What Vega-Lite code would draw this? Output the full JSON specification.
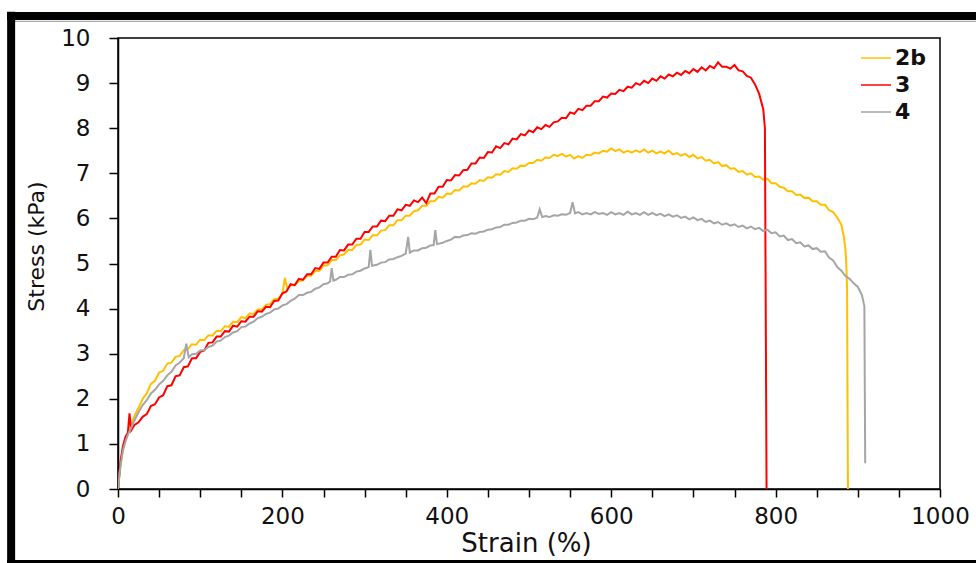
{
  "$schema": "https://vega.github.io/schema/vega-lite/v6.json",
  "autosize": {"type": "none"},
  "padding": {"left": 118, "top": 38, "right": 36, "bottom": 74},
  "width": 822,
  "height": 451,
  "background": "white",
  "config": {"view": {"stroke": "#000", "strokeWidth": 1.5}, "font": "DejaVu Sans"},
  "layer": [
    {
      "data": {"values": [
        {"sample":"2b","strain":0,"stress":0},{"sample":"2b","strain":3,"stress":0.55},{"sample":"2b","strain":6,"stress":0.9},{"sample":"2b","strain":9,"stress":1.1},{"sample":"2b","strain":12,"stress":1.25},{"sample":"2b","strain":15,"stress":1.38},{"sample":"2b","strain":20,"stress":1.62},{"sample":"2b","strain":25,"stress":1.8},{"sample":"2b","strain":30,"stress":2.0},{"sample":"2b","strain":35,"stress":2.12},{"sample":"2b","strain":40,"stress":2.33},{"sample":"2b","strain":45,"stress":2.4},{"sample":"2b","strain":50,"stress":2.58},{"sample":"2b","strain":55,"stress":2.62},{"sample":"2b","strain":60,"stress":2.78},{"sample":"2b","strain":65,"stress":2.8},{"sample":"2b","strain":70,"stress":2.93},{"sample":"2b","strain":75,"stress":2.95},{"sample":"2b","strain":80,"stress":3.08},{"sample":"2b","strain":85,"stress":3.1},{"sample":"2b","strain":90,"stress":3.21},{"sample":"2b","strain":95,"stress":3.2},{"sample":"2b","strain":100,"stress":3.31},{"sample":"2b","strain":105,"stress":3.3},{"sample":"2b","strain":110,"stress":3.41},{"sample":"2b","strain":115,"stress":3.4},{"sample":"2b","strain":120,"stress":3.51},{"sample":"2b","strain":125,"stress":3.5},{"sample":"2b","strain":130,"stress":3.61},{"sample":"2b","strain":135,"stress":3.6},{"sample":"2b","strain":140,"stress":3.71},{"sample":"2b","strain":145,"stress":3.7},{"sample":"2b","strain":150,"stress":3.81},{"sample":"2b","strain":155,"stress":3.79},{"sample":"2b","strain":160,"stress":3.89},{"sample":"2b","strain":165,"stress":3.88},{"sample":"2b","strain":170,"stress":3.98},{"sample":"2b","strain":175,"stress":3.98},{"sample":"2b","strain":180,"stress":4.08},{"sample":"2b","strain":185,"stress":4.1},{"sample":"2b","strain":190,"stress":4.21},{"sample":"2b","strain":195,"stress":4.22},{"sample":"2b","strain":200,"stress":4.33},{"sample":"2b","strain":203,"stress":4.68},{"sample":"2b","strain":206,"stress":4.44},{"sample":"2b","strain":210,"stress":4.53},{"sample":"2b","strain":215,"stress":4.52},{"sample":"2b","strain":220,"stress":4.61},{"sample":"2b","strain":225,"stress":4.62},{"sample":"2b","strain":230,"stress":4.73},{"sample":"2b","strain":235,"stress":4.73},{"sample":"2b","strain":240,"stress":4.83},{"sample":"2b","strain":245,"stress":4.84},{"sample":"2b","strain":250,"stress":4.95},{"sample":"2b","strain":255,"stress":4.96},{"sample":"2b","strain":260,"stress":5.08},{"sample":"2b","strain":265,"stress":5.08},{"sample":"2b","strain":270,"stress":5.18},{"sample":"2b","strain":275,"stress":5.2},{"sample":"2b","strain":280,"stress":5.3},{"sample":"2b","strain":285,"stress":5.3},{"sample":"2b","strain":290,"stress":5.41},{"sample":"2b","strain":295,"stress":5.42},{"sample":"2b","strain":300,"stress":5.53},{"sample":"2b","strain":305,"stress":5.52},{"sample":"2b","strain":310,"stress":5.63},{"sample":"2b","strain":315,"stress":5.62},{"sample":"2b","strain":320,"stress":5.73},{"sample":"2b","strain":325,"stress":5.74},{"sample":"2b","strain":330,"stress":5.85},{"sample":"2b","strain":335,"stress":5.85},{"sample":"2b","strain":340,"stress":5.96},{"sample":"2b","strain":345,"stress":5.96},{"sample":"2b","strain":350,"stress":6.06},{"sample":"2b","strain":355,"stress":6.06},{"sample":"2b","strain":360,"stress":6.16},{"sample":"2b","strain":365,"stress":6.18},{"sample":"2b","strain":370,"stress":6.28},{"sample":"2b","strain":375,"stress":6.28},{"sample":"2b","strain":380,"stress":6.38},{"sample":"2b","strain":385,"stress":6.38},{"sample":"2b","strain":390,"stress":6.48},{"sample":"2b","strain":395,"stress":6.46},{"sample":"2b","strain":400,"stress":6.55},{"sample":"2b","strain":405,"stress":6.54},{"sample":"2b","strain":410,"stress":6.63},{"sample":"2b","strain":415,"stress":6.62},{"sample":"2b","strain":420,"stress":6.71},{"sample":"2b","strain":425,"stress":6.7},{"sample":"2b","strain":430,"stress":6.78},{"sample":"2b","strain":435,"stress":6.77},{"sample":"2b","strain":440,"stress":6.85},{"sample":"2b","strain":445,"stress":6.83},{"sample":"2b","strain":450,"stress":6.91},{"sample":"2b","strain":455,"stress":6.9},{"sample":"2b","strain":460,"stress":6.98},{"sample":"2b","strain":465,"stress":6.97},{"sample":"2b","strain":470,"stress":7.05},{"sample":"2b","strain":475,"stress":7.03},{"sample":"2b","strain":480,"stress":7.11},{"sample":"2b","strain":485,"stress":7.1},{"sample":"2b","strain":490,"stress":7.17},{"sample":"2b","strain":495,"stress":7.16},{"sample":"2b","strain":500,"stress":7.23},{"sample":"2b","strain":505,"stress":7.23},{"sample":"2b","strain":510,"stress":7.3},{"sample":"2b","strain":515,"stress":7.28},{"sample":"2b","strain":520,"stress":7.35},{"sample":"2b","strain":525,"stress":7.34},{"sample":"2b","strain":530,"stress":7.41},{"sample":"2b","strain":535,"stress":7.38},{"sample":"2b","strain":540,"stress":7.43},{"sample":"2b","strain":545,"stress":7.37},{"sample":"2b","strain":550,"stress":7.41},{"sample":"2b","strain":555,"stress":7.33},{"sample":"2b","strain":560,"stress":7.38},{"sample":"2b","strain":565,"stress":7.34},{"sample":"2b","strain":570,"stress":7.41},{"sample":"2b","strain":575,"stress":7.4},{"sample":"2b","strain":580,"stress":7.46},{"sample":"2b","strain":585,"stress":7.44},{"sample":"2b","strain":590,"stress":7.5},{"sample":"2b","strain":595,"stress":7.48},{"sample":"2b","strain":600,"stress":7.55},{"sample":"2b","strain":605,"stress":7.49},{"sample":"2b","strain":610,"stress":7.53},{"sample":"2b","strain":615,"stress":7.46},{"sample":"2b","strain":620,"stress":7.5},{"sample":"2b","strain":625,"stress":7.46},{"sample":"2b","strain":630,"stress":7.51},{"sample":"2b","strain":635,"stress":7.47},{"sample":"2b","strain":640,"stress":7.53},{"sample":"2b","strain":645,"stress":7.46},{"sample":"2b","strain":650,"stress":7.5},{"sample":"2b","strain":655,"stress":7.44},{"sample":"2b","strain":660,"stress":7.48},{"sample":"2b","strain":665,"stress":7.44},{"sample":"2b","strain":670,"stress":7.5},{"sample":"2b","strain":675,"stress":7.42},{"sample":"2b","strain":680,"stress":7.45},{"sample":"2b","strain":685,"stress":7.39},{"sample":"2b","strain":690,"stress":7.43},{"sample":"2b","strain":695,"stress":7.36},{"sample":"2b","strain":700,"stress":7.41},{"sample":"2b","strain":705,"stress":7.33},{"sample":"2b","strain":710,"stress":7.36},{"sample":"2b","strain":715,"stress":7.28},{"sample":"2b","strain":720,"stress":7.3},{"sample":"2b","strain":725,"stress":7.22},{"sample":"2b","strain":730,"stress":7.25},{"sample":"2b","strain":735,"stress":7.16},{"sample":"2b","strain":740,"stress":7.18},{"sample":"2b","strain":745,"stress":7.1},{"sample":"2b","strain":750,"stress":7.11},{"sample":"2b","strain":755,"stress":7.03},{"sample":"2b","strain":760,"stress":7.05},{"sample":"2b","strain":765,"stress":6.97},{"sample":"2b","strain":770,"stress":7.0},{"sample":"2b","strain":775,"stress":6.92},{"sample":"2b","strain":780,"stress":6.93},{"sample":"2b","strain":785,"stress":6.86},{"sample":"2b","strain":790,"stress":6.88},{"sample":"2b","strain":795,"stress":6.78},{"sample":"2b","strain":800,"stress":6.78},{"sample":"2b","strain":805,"stress":6.7},{"sample":"2b","strain":810,"stress":6.68},{"sample":"2b","strain":815,"stress":6.6},{"sample":"2b","strain":820,"stress":6.6},{"sample":"2b","strain":825,"stress":6.52},{"sample":"2b","strain":830,"stress":6.53},{"sample":"2b","strain":835,"stress":6.45},{"sample":"2b","strain":840,"stress":6.46},{"sample":"2b","strain":845,"stress":6.38},{"sample":"2b","strain":850,"stress":6.38},{"sample":"2b","strain":855,"stress":6.3},{"sample":"2b","strain":860,"stress":6.3},{"sample":"2b","strain":865,"stress":6.18},{"sample":"2b","strain":870,"stress":6.14},{"sample":"2b","strain":875,"stress":6.02},{"sample":"2b","strain":880,"stress":5.86},{"sample":"2b","strain":883,"stress":5.6},{"sample":"2b","strain":885,"stress":5.3},{"sample":"2b","strain":886,"stress":5.0},{"sample":"2b","strain":887,"stress":4.4},{"sample":"2b","strain":887.5,"stress":2.0},{"sample":"2b","strain":888,"stress":0},
        {"sample":"3","strain":0,"stress":0},{"sample":"3","strain":3,"stress":0.6},{"sample":"3","strain":6,"stress":0.95},{"sample":"3","strain":9,"stress":1.15},{"sample":"3","strain":12,"stress":1.25},{"sample":"3","strain":14,"stress":1.68},{"sample":"3","strain":16,"stress":1.3},{"sample":"3","strain":20,"stress":1.42},{"sample":"3","strain":25,"stress":1.48},{"sample":"3","strain":30,"stress":1.6},{"sample":"3","strain":35,"stress":1.66},{"sample":"3","strain":40,"stress":1.84},{"sample":"3","strain":45,"stress":1.88},{"sample":"3","strain":50,"stress":2.03},{"sample":"3","strain":55,"stress":2.08},{"sample":"3","strain":60,"stress":2.28},{"sample":"3","strain":65,"stress":2.3},{"sample":"3","strain":70,"stress":2.5},{"sample":"3","strain":75,"stress":2.52},{"sample":"3","strain":80,"stress":2.7},{"sample":"3","strain":85,"stress":2.72},{"sample":"3","strain":90,"stress":2.9},{"sample":"3","strain":95,"stress":2.9},{"sample":"3","strain":100,"stress":3.04},{"sample":"3","strain":105,"stress":3.07},{"sample":"3","strain":110,"stress":3.24},{"sample":"3","strain":115,"stress":3.25},{"sample":"3","strain":120,"stress":3.38},{"sample":"3","strain":125,"stress":3.38},{"sample":"3","strain":130,"stress":3.5},{"sample":"3","strain":135,"stress":3.49},{"sample":"3","strain":140,"stress":3.62},{"sample":"3","strain":145,"stress":3.6},{"sample":"3","strain":150,"stress":3.72},{"sample":"3","strain":155,"stress":3.71},{"sample":"3","strain":160,"stress":3.82},{"sample":"3","strain":165,"stress":3.82},{"sample":"3","strain":170,"stress":3.94},{"sample":"3","strain":175,"stress":3.93},{"sample":"3","strain":180,"stress":4.04},{"sample":"3","strain":185,"stress":4.03},{"sample":"3","strain":190,"stress":4.17},{"sample":"3","strain":195,"stress":4.18},{"sample":"3","strain":200,"stress":4.34},{"sample":"3","strain":205,"stress":4.38},{"sample":"3","strain":210,"stress":4.54},{"sample":"3","strain":215,"stress":4.52},{"sample":"3","strain":220,"stress":4.66},{"sample":"3","strain":225,"stress":4.64},{"sample":"3","strain":230,"stress":4.76},{"sample":"3","strain":235,"stress":4.76},{"sample":"3","strain":240,"stress":4.9},{"sample":"3","strain":245,"stress":4.88},{"sample":"3","strain":250,"stress":5.02},{"sample":"3","strain":255,"stress":5.02},{"sample":"3","strain":260,"stress":5.15},{"sample":"3","strain":265,"stress":5.15},{"sample":"3","strain":270,"stress":5.3},{"sample":"3","strain":275,"stress":5.29},{"sample":"3","strain":280,"stress":5.42},{"sample":"3","strain":285,"stress":5.42},{"sample":"3","strain":290,"stress":5.55},{"sample":"3","strain":295,"stress":5.55},{"sample":"3","strain":300,"stress":5.7},{"sample":"3","strain":305,"stress":5.7},{"sample":"3","strain":310,"stress":5.82},{"sample":"3","strain":315,"stress":5.82},{"sample":"3","strain":320,"stress":5.95},{"sample":"3","strain":325,"stress":5.94},{"sample":"3","strain":330,"stress":6.06},{"sample":"3","strain":335,"stress":6.06},{"sample":"3","strain":340,"stress":6.2},{"sample":"3","strain":345,"stress":6.18},{"sample":"3","strain":350,"stress":6.3},{"sample":"3","strain":355,"stress":6.28},{"sample":"3","strain":360,"stress":6.4},{"sample":"3","strain":365,"stress":6.36},{"sample":"3","strain":370,"stress":6.46},{"sample":"3","strain":375,"stress":6.34},{"sample":"3","strain":380,"stress":6.55},{"sample":"3","strain":385,"stress":6.55},{"sample":"3","strain":390,"stress":6.7},{"sample":"3","strain":395,"stress":6.7},{"sample":"3","strain":400,"stress":6.85},{"sample":"3","strain":405,"stress":6.84},{"sample":"3","strain":410,"stress":6.96},{"sample":"3","strain":415,"stress":6.95},{"sample":"3","strain":420,"stress":7.07},{"sample":"3","strain":425,"stress":7.08},{"sample":"3","strain":430,"stress":7.22},{"sample":"3","strain":435,"stress":7.22},{"sample":"3","strain":440,"stress":7.35},{"sample":"3","strain":445,"stress":7.34},{"sample":"3","strain":450,"stress":7.47},{"sample":"3","strain":455,"stress":7.46},{"sample":"3","strain":460,"stress":7.6},{"sample":"3","strain":465,"stress":7.56},{"sample":"3","strain":470,"stress":7.67},{"sample":"3","strain":475,"stress":7.64},{"sample":"3","strain":480,"stress":7.77},{"sample":"3","strain":485,"stress":7.75},{"sample":"3","strain":490,"stress":7.87},{"sample":"3","strain":495,"stress":7.84},{"sample":"3","strain":500,"stress":7.95},{"sample":"3","strain":505,"stress":7.91},{"sample":"3","strain":510,"stress":8.02},{"sample":"3","strain":515,"stress":7.98},{"sample":"3","strain":520,"stress":8.07},{"sample":"3","strain":525,"stress":8.03},{"sample":"3","strain":530,"stress":8.13},{"sample":"3","strain":535,"stress":8.15},{"sample":"3","strain":540,"stress":8.23},{"sample":"3","strain":545,"stress":8.22},{"sample":"3","strain":550,"stress":8.35},{"sample":"3","strain":555,"stress":8.32},{"sample":"3","strain":560,"stress":8.43},{"sample":"3","strain":565,"stress":8.4},{"sample":"3","strain":570,"stress":8.5},{"sample":"3","strain":575,"stress":8.5},{"sample":"3","strain":580,"stress":8.6},{"sample":"3","strain":585,"stress":8.6},{"sample":"3","strain":590,"stress":8.7},{"sample":"3","strain":595,"stress":8.68},{"sample":"3","strain":600,"stress":8.77},{"sample":"3","strain":605,"stress":8.76},{"sample":"3","strain":610,"stress":8.85},{"sample":"3","strain":615,"stress":8.82},{"sample":"3","strain":620,"stress":8.92},{"sample":"3","strain":625,"stress":8.9},{"sample":"3","strain":630,"stress":9.0},{"sample":"3","strain":635,"stress":8.96},{"sample":"3","strain":640,"stress":9.05},{"sample":"3","strain":645,"stress":9.0},{"sample":"3","strain":650,"stress":9.1},{"sample":"3","strain":655,"stress":9.05},{"sample":"3","strain":660,"stress":9.15},{"sample":"3","strain":665,"stress":9.1},{"sample":"3","strain":670,"stress":9.19},{"sample":"3","strain":675,"stress":9.15},{"sample":"3","strain":680,"stress":9.23},{"sample":"3","strain":685,"stress":9.18},{"sample":"3","strain":690,"stress":9.27},{"sample":"3","strain":695,"stress":9.22},{"sample":"3","strain":700,"stress":9.31},{"sample":"3","strain":705,"stress":9.25},{"sample":"3","strain":710,"stress":9.35},{"sample":"3","strain":715,"stress":9.28},{"sample":"3","strain":720,"stress":9.38},{"sample":"3","strain":725,"stress":9.33},{"sample":"3","strain":730,"stress":9.46},{"sample":"3","strain":735,"stress":9.36},{"sample":"3","strain":740,"stress":9.36},{"sample":"3","strain":745,"stress":9.32},{"sample":"3","strain":750,"stress":9.4},{"sample":"3","strain":755,"stress":9.28},{"sample":"3","strain":760,"stress":9.26},{"sample":"3","strain":765,"stress":9.16},{"sample":"3","strain":770,"stress":9.12},{"sample":"3","strain":775,"stress":8.97},{"sample":"3","strain":780,"stress":8.76},{"sample":"3","strain":785,"stress":8.42},{"sample":"3","strain":787,"stress":8.0},{"sample":"3","strain":789,"stress":0},
        {"sample":"4","strain":0,"stress":0},{"sample":"4","strain":3,"stress":0.5},{"sample":"4","strain":6,"stress":0.85},{"sample":"4","strain":9,"stress":1.05},{"sample":"4","strain":12,"stress":1.2},{"sample":"4","strain":15,"stress":1.32},{"sample":"4","strain":20,"stress":1.52},{"sample":"4","strain":25,"stress":1.7},{"sample":"4","strain":30,"stress":1.86},{"sample":"4","strain":35,"stress":1.97},{"sample":"4","strain":40,"stress":2.12},{"sample":"4","strain":45,"stress":2.2},{"sample":"4","strain":50,"stress":2.32},{"sample":"4","strain":55,"stress":2.4},{"sample":"4","strain":60,"stress":2.52},{"sample":"4","strain":65,"stress":2.6},{"sample":"4","strain":70,"stress":2.74},{"sample":"4","strain":75,"stress":2.8},{"sample":"4","strain":80,"stress":2.9},{"sample":"4","strain":83,"stress":3.22},{"sample":"4","strain":86,"stress":2.92},{"sample":"4","strain":90,"stress":2.99},{"sample":"4","strain":95,"stress":3.0},{"sample":"4","strain":100,"stress":3.07},{"sample":"4","strain":105,"stress":3.08},{"sample":"4","strain":110,"stress":3.15},{"sample":"4","strain":115,"stress":3.18},{"sample":"4","strain":120,"stress":3.27},{"sample":"4","strain":125,"stress":3.29},{"sample":"4","strain":130,"stress":3.37},{"sample":"4","strain":135,"stress":3.4},{"sample":"4","strain":140,"stress":3.47},{"sample":"4","strain":145,"stress":3.5},{"sample":"4","strain":150,"stress":3.59},{"sample":"4","strain":155,"stress":3.6},{"sample":"4","strain":160,"stress":3.67},{"sample":"4","strain":165,"stress":3.71},{"sample":"4","strain":170,"stress":3.79},{"sample":"4","strain":175,"stress":3.82},{"sample":"4","strain":180,"stress":3.88},{"sample":"4","strain":185,"stress":3.91},{"sample":"4","strain":190,"stress":3.98},{"sample":"4","strain":195,"stress":4.0},{"sample":"4","strain":200,"stress":4.07},{"sample":"4","strain":205,"stress":4.1},{"sample":"4","strain":210,"stress":4.17},{"sample":"4","strain":215,"stress":4.22},{"sample":"4","strain":220,"stress":4.3},{"sample":"4","strain":225,"stress":4.3},{"sample":"4","strain":230,"stress":4.35},{"sample":"4","strain":235,"stress":4.37},{"sample":"4","strain":240,"stress":4.44},{"sample":"4","strain":245,"stress":4.47},{"sample":"4","strain":250,"stress":4.54},{"sample":"4","strain":255,"stress":4.56},{"sample":"4","strain":258,"stress":4.6},{"sample":"4","strain":260,"stress":4.9},{"sample":"4","strain":262,"stress":4.62},{"sample":"4","strain":265,"stress":4.64},{"sample":"4","strain":270,"stress":4.7},{"sample":"4","strain":275,"stress":4.7},{"sample":"4","strain":280,"stress":4.75},{"sample":"4","strain":285,"stress":4.76},{"sample":"4","strain":290,"stress":4.82},{"sample":"4","strain":295,"stress":4.84},{"sample":"4","strain":300,"stress":4.89},{"sample":"4","strain":305,"stress":4.92},{"sample":"4","strain":307,"stress":5.3},{"sample":"4","strain":309,"stress":4.95},{"sample":"4","strain":315,"stress":4.97},{"sample":"4","strain":320,"stress":5.02},{"sample":"4","strain":325,"stress":5.03},{"sample":"4","strain":330,"stress":5.09},{"sample":"4","strain":335,"stress":5.1},{"sample":"4","strain":340,"stress":5.14},{"sample":"4","strain":345,"stress":5.17},{"sample":"4","strain":350,"stress":5.22},{"sample":"4","strain":353,"stress":5.59},{"sample":"4","strain":355,"stress":5.24},{"sample":"4","strain":360,"stress":5.29},{"sample":"4","strain":365,"stress":5.29},{"sample":"4","strain":370,"stress":5.34},{"sample":"4","strain":375,"stress":5.35},{"sample":"4","strain":380,"stress":5.4},{"sample":"4","strain":384,"stress":5.41},{"sample":"4","strain":386,"stress":5.74},{"sample":"4","strain":388,"stress":5.43},{"sample":"4","strain":395,"stress":5.46},{"sample":"4","strain":400,"stress":5.5},{"sample":"4","strain":405,"stress":5.53},{"sample":"4","strain":410,"stress":5.59},{"sample":"4","strain":415,"stress":5.58},{"sample":"4","strain":420,"stress":5.62},{"sample":"4","strain":425,"stress":5.63},{"sample":"4","strain":430,"stress":5.67},{"sample":"4","strain":435,"stress":5.66},{"sample":"4","strain":440,"stress":5.7},{"sample":"4","strain":445,"stress":5.71},{"sample":"4","strain":450,"stress":5.75},{"sample":"4","strain":455,"stress":5.76},{"sample":"4","strain":460,"stress":5.8},{"sample":"4","strain":465,"stress":5.81},{"sample":"4","strain":470,"stress":5.86},{"sample":"4","strain":475,"stress":5.86},{"sample":"4","strain":480,"stress":5.9},{"sample":"4","strain":485,"stress":5.91},{"sample":"4","strain":490,"stress":5.95},{"sample":"4","strain":495,"stress":5.95},{"sample":"4","strain":500,"stress":5.99},{"sample":"4","strain":505,"stress":5.98},{"sample":"4","strain":510,"stress":6.02},{"sample":"4","strain":513,"stress":6.2},{"sample":"4","strain":516,"stress":6.03},{"sample":"4","strain":520,"stress":6.05},{"sample":"4","strain":525,"stress":6.03},{"sample":"4","strain":530,"stress":6.07},{"sample":"4","strain":535,"stress":6.06},{"sample":"4","strain":540,"stress":6.09},{"sample":"4","strain":545,"stress":6.08},{"sample":"4","strain":550,"stress":6.12},{"sample":"4","strain":553,"stress":6.36},{"sample":"4","strain":556,"stress":6.11},{"sample":"4","strain":560,"stress":6.14},{"sample":"4","strain":565,"stress":6.09},{"sample":"4","strain":570,"stress":6.12},{"sample":"4","strain":575,"stress":6.09},{"sample":"4","strain":580,"stress":6.14},{"sample":"4","strain":585,"stress":6.1},{"sample":"4","strain":590,"stress":6.12},{"sample":"4","strain":595,"stress":6.08},{"sample":"4","strain":600,"stress":6.14},{"sample":"4","strain":605,"stress":6.09},{"sample":"4","strain":610,"stress":6.12},{"sample":"4","strain":615,"stress":6.08},{"sample":"4","strain":620,"stress":6.15},{"sample":"4","strain":625,"stress":6.09},{"sample":"4","strain":630,"stress":6.12},{"sample":"4","strain":635,"stress":6.08},{"sample":"4","strain":640,"stress":6.14},{"sample":"4","strain":645,"stress":6.08},{"sample":"4","strain":650,"stress":6.12},{"sample":"4","strain":655,"stress":6.07},{"sample":"4","strain":660,"stress":6.1},{"sample":"4","strain":665,"stress":6.05},{"sample":"4","strain":670,"stress":6.09},{"sample":"4","strain":675,"stress":6.04},{"sample":"4","strain":680,"stress":6.07},{"sample":"4","strain":685,"stress":6.01},{"sample":"4","strain":690,"stress":6.04},{"sample":"4","strain":695,"stress":5.98},{"sample":"4","strain":700,"stress":6.02},{"sample":"4","strain":705,"stress":5.96},{"sample":"4","strain":710,"stress":5.99},{"sample":"4","strain":715,"stress":5.92},{"sample":"4","strain":720,"stress":5.95},{"sample":"4","strain":725,"stress":5.89},{"sample":"4","strain":730,"stress":5.92},{"sample":"4","strain":735,"stress":5.86},{"sample":"4","strain":740,"stress":5.89},{"sample":"4","strain":745,"stress":5.84},{"sample":"4","strain":750,"stress":5.87},{"sample":"4","strain":755,"stress":5.81},{"sample":"4","strain":760,"stress":5.84},{"sample":"4","strain":765,"stress":5.78},{"sample":"4","strain":770,"stress":5.82},{"sample":"4","strain":775,"stress":5.76},{"sample":"4","strain":780,"stress":5.79},{"sample":"4","strain":785,"stress":5.72},{"sample":"4","strain":790,"stress":5.75},{"sample":"4","strain":795,"stress":5.67},{"sample":"4","strain":800,"stress":5.69},{"sample":"4","strain":805,"stress":5.6},{"sample":"4","strain":810,"stress":5.62},{"sample":"4","strain":815,"stress":5.52},{"sample":"4","strain":820,"stress":5.54},{"sample":"4","strain":825,"stress":5.45},{"sample":"4","strain":830,"stress":5.47},{"sample":"4","strain":835,"stress":5.38},{"sample":"4","strain":840,"stress":5.4},{"sample":"4","strain":845,"stress":5.32},{"sample":"4","strain":850,"stress":5.34},{"sample":"4","strain":855,"stress":5.26},{"sample":"4","strain":860,"stress":5.27},{"sample":"4","strain":865,"stress":5.13},{"sample":"4","strain":870,"stress":5.07},{"sample":"4","strain":875,"stress":4.92},{"sample":"4","strain":880,"stress":4.84},{"sample":"4","strain":885,"stress":4.72},{"sample":"4","strain":890,"stress":4.66},{"sample":"4","strain":895,"stress":4.56},{"sample":"4","strain":900,"stress":4.48},{"sample":"4","strain":905,"stress":4.3},{"sample":"4","strain":908,"stress":4.05},{"sample":"4","strain":909,"stress":0.57}
      ]},
      "mark": {"type": "line", "strokeWidth": 2, "clip": true},
      "encoding": {
        "x": {
          "field": "strain", "type": "quantitative",
          "scale": {"domain": [0, 1000], "nice": false, "zero": false},
          "axis": {
            "title": "Strain (%)",
            "values": [0,50,100,150,200,250,300,350,400,450,500,550,600,650,700,750,800,850,900,950,1000],
            "labelExpr": "datum.value % 200 === 0 ? format(datum.value, 'd') : ''",
            "grid": false, "domainColor": "#000", "domainWidth": 1.5,
            "tickColor": "#000", "tickWidth": 1.5, "tickSize": 8,
            "labelPadding": 8, "labelFont": "DejaVu Sans", "labelFontSize": 23, "labelColor": "#111",
            "labelOverlap": false, "labelFlush": false,
            "titleFont": "DejaVu Sans", "titleFontSize": 26, "titleFontWeight": "normal", "titleColor": "#111",
            "titleX": 408, "titleY": 54, "titleAlign": "center", "titleBaseline": "middle"
          }
        },
        "y": {
          "field": "stress", "type": "quantitative",
          "scale": {"domain": [0, 10], "nice": false},
          "axis": {
            "title": "Stress (kPa)",
            "values": [0,0.5,1,1.5,2,2.5,3,3.5,4,4.5,5,5.5,6,6.5,7,7.5,8,8.5,9,9.5,10],
            "labelExpr": "datum.value % 1 === 0 ? format(datum.value, 'd') : ''",
            "grid": false, "domainColor": "#000", "domainWidth": 1.5,
            "tickColor": "#000", "tickWidth": 1.5, "tickSize": 9,
            "labelPadding": 19, "labelFont": "DejaVu Sans", "labelFontSize": 23, "labelColor": "#111",
            "labelOverlap": false, "labelFlush": false,
            "titleFont": "DejaVu Sans", "titleFontSize": 22, "titleFontWeight": "normal", "titleColor": "#111",
            "titleX": -82, "titleY": 208, "titleAngle": -90, "titleAlign": "center", "titleBaseline": "middle"
          }
        },
        "color": {
          "field": "sample", "type": "nominal",
          "scale": {"domain": ["2b", "3", "4"], "range": ["#FFC000", "#FF0000", "#A5A5A5"]},
          "legend": {
            "title": null, "orient": "none", "legendX": 742, "legendY": 4, "padding": 0,
            "symbolType": "stroke", "symbolSize": 900, "symbolStrokeWidth": 1.5,
            "labelFont": "DejaVu Sans", "labelFontSize": 22, "labelFontWeight": "bold", "labelColor": "#111",
            "labelOffset": 3, "rowPadding": -4
          }
        }
      }
    },
    {
      "data": {"values": [{}]},
      "mark": {"type": "rule", "clip": false, "color": "#000", "strokeWidth": 8},
      "encoding": {
        "x": {"datum": -135, "type": "quantitative", "scale": {"domain": [0, 1000], "nice": false, "zero": false}},
        "x2": {"datum": 1100},
        "y": {"datum": 10.49, "type": "quantitative", "scale": {"domain": [0, 10], "nice": false}}
      }
    },
    {
      "data": {"values": [{}]},
      "mark": {"type": "rule", "clip": false, "color": "#999", "strokeWidth": 1},
      "encoding": {
        "x": {"datum": -126, "type": "quantitative", "scale": {"domain": [0, 1000], "nice": false, "zero": false}},
        "x2": {"datum": 1100},
        "y": {"datum": 10.37, "type": "quantitative", "scale": {"domain": [0, 10], "nice": false}}
      }
    },
    {
      "data": {"values": [{}]},
      "mark": {"type": "rule", "clip": false, "color": "#000", "strokeWidth": 8},
      "encoding": {
        "x": {"datum": -130, "type": "quantitative", "scale": {"domain": [0, 1000], "nice": false, "zero": false}},
        "y": {"datum": 10.58, "type": "quantitative", "scale": {"domain": [0, 10], "nice": false}},
        "y2": {"datum": -1.7}
      }
    },
    {
      "data": {"values": [{}]},
      "mark": {"type": "rule", "clip": false, "color": "#000", "strokeWidth": 3},
      "encoding": {
        "x": {"datum": -135, "type": "quantitative", "scale": {"domain": [0, 1000], "nice": false, "zero": false}},
        "x2": {"datum": 1100},
        "y": {"datum": -1.61, "type": "quantitative", "scale": {"domain": [0, 10], "nice": false}}
      }
    }
  ]
}
